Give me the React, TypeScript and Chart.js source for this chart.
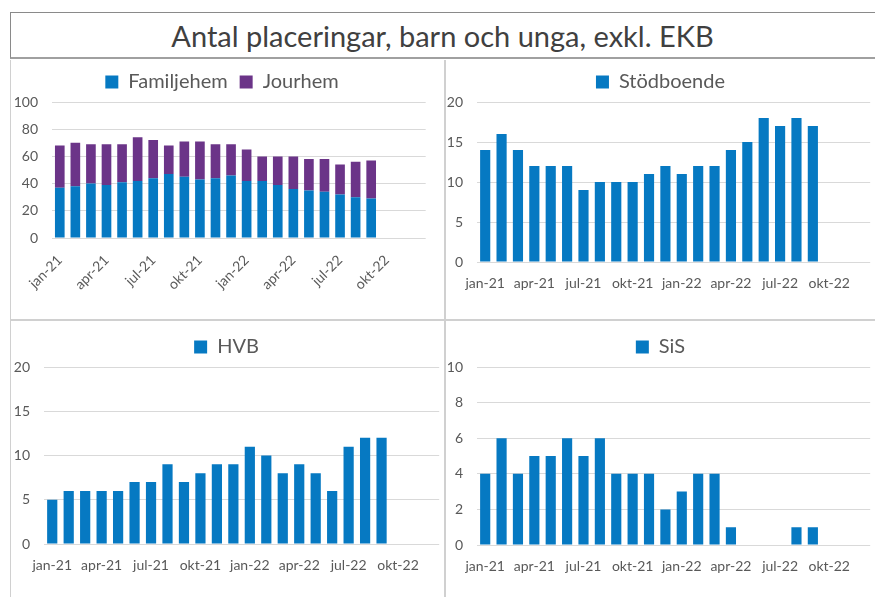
import React, { useEffect, useRef } from "react";
import { Chart, registerables } from "chart.js";

Chart.register(...registerables);

const categories = [
  "jan-21", "feb-21", "mar-21", "apr-21", "maj-21", "jun-21", "jul-21", "aug-21", "sep-21", "okt-21", "nov-21", "dec-21",
  "jan-22", "feb-22", "mar-22", "apr-22", "maj-22", "jun-22", "jul-22", "aug-22", "sep-22", "okt-22", "nov-22", "dec-22",
];

const familjehem = [37, 38, 40, 39, 41, 42, 44, 47, 45, 43, 44, 46, 42, 42, 39, 36, 35, 34, 32, 30, 29];
const jourhem = [31, 32, 29, 30, 28, 32, 28, 21, 26, 28, 25, 23, 23, 18, 21, 24, 23, 24, 22, 26, 28];
const stodboende = [14, 16, 14, 12, 12, 12, 9, 10, 10, 10, 11, 12, 11, 12, 12, 14, 15, 18, 17, 18, 17];
const hvb = [5, 6, 6, 6, 6, 7, 7, 9, 7, 8, 9, 9, 11, 10, 8, 9, 8, 6, 11, 12, 12];
const sis = [4, 6, 4, 5, 5, 6, 5, 6, 4, 4, 4, 2, 3, 4, 4, 1, 0, 0, 0, 1, 1];

const TITLE = "Antal placeringar, barn och unga, exkl. EKB";
const BLUE = "#0679C2";
const PURPLE = "#6B3488";
const TEXT = "#595959";
const GRID = "#d9d9d9";
const FONT = "Lato, 'Open Sans', sans-serif";

type DS = { label: string; data: number[]; color: string };

type PanelProps = {
  left: number;
  top: number;
  width: number;
  height: number;
  series: DS[];
  yMax: number;
  yStep: number;
  rotate: boolean;
  pad: { left: number; right: number; top: number; bottom: number };
  yWidth: number;
  xHeight: number;
  legendPad: number;
};

function Panel(p: PanelProps) {
  const ref = useRef<HTMLCanvasElement | null>(null);
  useEffect(() => {
    if (!ref.current) return;
    const chart = new Chart(ref.current, {
      type: "bar",
      data: {
        labels: categories,
        datasets: p.series.map((s) => ({
          label: s.label,
          data: s.data,
          backgroundColor: s.color,
          borderWidth: 0,
          barPercentage: 1,
          categoryPercentage: 0.62,
        })),
      },
      options: {
        responsive: false,
        animation: false,
        layout: { padding: p.pad },
        plugins: {
          legend: {
            display: true,
            position: "top",
            labels: {
              boxWidth: 13,
              boxHeight: 13,
              padding: p.legendPad,
              color: TEXT,
              font: { family: FONT, size: 20 },
            },
          },
          tooltip: { enabled: false },
        },
        scales: {
          x: {
            stacked: true,
            grid: { display: false, drawTicks: false },
            border: { display: false },
            afterFit: (s: any) => {
              s.height = p.xHeight;
            },
            ticks: {
              autoSkip: false,
              maxRotation: p.rotate ? 45 : 0,
              minRotation: p.rotate ? 45 : 0,
              padding: p.rotate ? 14 : 13,
              color: TEXT,
              font: { family: FONT, size: 14 },
              callback: (_v: any, i: number) => (i % 3 === 0 && i <= 21 ? categories[i] : ""),
            },
          },
          y: {
            stacked: true,
            min: 0,
            max: p.yMax,
            grid: { color: GRID, drawTicks: false, lineWidth: 1 },
            border: { display: false },
            afterFit: (s: any) => {
              s.width = p.yWidth;
            },
            ticks: {
              stepSize: p.yStep,
              padding: 14,
              color: TEXT,
              font: { family: FONT, size: 14 },
            },
          },
        },
      },
    });
    return () => chart.destroy();
  }, []);
  return (
    <div style={{ position: "absolute", left: p.left, top: p.top, width: p.width, height: p.height }}>
      <canvas ref={ref} width={p.width} height={p.height} style={{ display: "block" }} />
    </div>
  );
}

export default function App() {
  return (
    <div
      style={{
        position: "fixed",
        left: 0,
        top: 0,
        width: 875,
        height: 597,
        background: "#fff",
        overflow: "hidden",
      }}
    >
      <div
        style={{
          position: "absolute",
          left: 10,
          top: 12,
          width: 880,
          height: 47,
          borderTop: "1px solid #8a8a8a",
          borderLeft: "1px solid #8a8a8a",
          borderBottom: "2px solid #a0a0a0",
          boxSizing: "border-box",
        }}
      />
      <div
        style={{
          position: "absolute",
          left: 10,
          top: 12,
          width: 865,
          height: 48,
          lineHeight: "48px",
          textAlign: "center",
          fontFamily: FONT,
          fontSize: 29,
          color: "#404040",
        }}
      >
        {TITLE}
      </div>
      <div style={{ position: "absolute", left: 10, top: 60, width: 1, height: 537, background: "#d0d0d0" }} />
      <div style={{ position: "absolute", left: 444, top: 60, width: 2, height: 537, background: "#d0d0d0" }} />
      <div style={{ position: "absolute", left: 10, top: 319, width: 865, height: 2, background: "#d0d0d0" }} />

      <Panel
        left={11}
        top={60}
        width={433}
        height={259}
        series={[
          { label: "Familjehem", data: familjehem, color: BLUE },
          { label: "Jourhem", data: jourhem, color: PURPLE },
        ]}
        yMax={100}
        yStep={20}
        rotate={true}
        pad={{ left: 0, right: 11, top: 0, bottom: 0 }}
        yWidth={41}
        xHeight={81}
        legendPad={12}
      />
      <Panel
        left={446}
        top={60}
        width={429}
        height={259}
        series={[{ label: "Stödboende", data: stodboende, color: BLUE }]}
        yMax={20}
        yStep={5}
        rotate={false}
        pad={{ left: 0, right: 0, top: 0, bottom: 0 }}
        yWidth={31}
        xHeight={57}
        legendPad={12}
      />
      <Panel
        left={11}
        top={321}
        width={433}
        height={276}
        series={[{ label: "HVB", data: hvb, color: BLUE }]}
        yMax={20}
        yStep={5}
        rotate={false}
        pad={{ left: 0, right: 2, top: 3, bottom: 0 }}
        yWidth={33}
        xHeight={53}
        legendPad={13}
      />
      <Panel
        left={446}
        top={321}
        width={429}
        height={276}
        series={[{ label: "SiS", data: sis, color: BLUE }]}
        yMax={10}
        yStep={2}
        rotate={false}
        pad={{ left: 0, right: 0, top: 3, bottom: 0 }}
        yWidth={31}
        xHeight={52}
        legendPad={13}
      />
    </div>
  );
}
